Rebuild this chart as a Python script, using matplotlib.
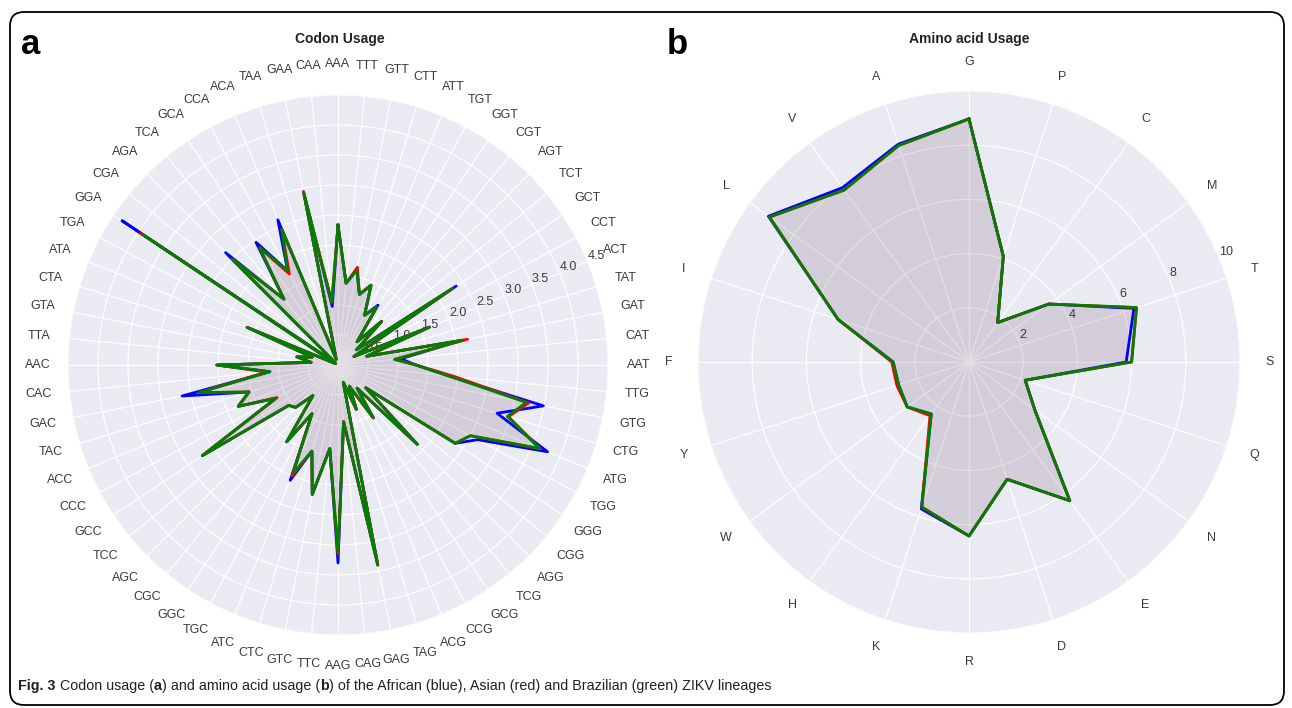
import matplotlib
matplotlib.use('Agg')
import matplotlib.pyplot as plt
import numpy as np
from matplotlib.patches import FancyBboxPatch

plt.rcParams['font.family'] = ['Liberation Sans', 'DejaVu Sans']

# ---------------- data ----------------
codons = ['AAA', 'TTT', 'GTT', 'CTT', 'ATT', 'TGT', 'GGT', 'CGT', 'AGT', 'TCT',
          'GCT', 'CCT', 'ACT', 'TAT', 'GAT', 'CAT', 'AAT', 'TTG', 'GTG', 'CTG',
          'ATG', 'TGG', 'GGG', 'CGG', 'AGG', 'TCG', 'GCG', 'CCG', 'ACG', 'TAG',
          'GAG', 'CAG', 'AAG', 'TTC', 'GTC', 'CTC', 'ATC', 'TGC', 'GGC', 'CGC',
          'AGC', 'TCC', 'GCC', 'CCC', 'ACC', 'TAC', 'GAC', 'CAC', 'AAC', 'TTA',
          'GTA', 'CTA', 'ATA', 'TGA', 'GGA', 'CGA', 'AGA', 'TCA', 'GCA', 'CCA',
          'ACA', 'TAA', 'GAA', 'CAA']

codon_african = [2.33, 1.37, 1.61, 1.23, 1.44, 0.94, 1.20, 0.50, 1.03, 0.40,
                 2.37, 0.30, 1.65, 0.50, 2.08, 1.05, 1.30, 1.85, 3.49, 2.77,
                 3.78, 2.64, 2.35, 0.60, 1.87, 0.50, 1.06, 0.40, 0.80, 0.30,
                 3.40, 0.95, 3.30, 1.40, 2.20, 1.50, 2.08, 0.92, 1.54, 0.66,
                 1.00, 1.06, 2.72, 1.18, 1.80, 1.55, 2.65, 1.14, 2.02, 0.45,
                 0.70, 0.45, 1.64, 0.05, 4.33, 0.05, 2.65, 1.42, 2.46, 1.78,
                 2.62, 0.10, 2.92, 0.98]
codon_asian = [2.33, 1.37, 1.66, 1.23, 1.44, 0.94, 1.16, 0.50, 1.03, 0.40,
               2.30, 0.30, 1.65, 0.50, 2.20, 0.95, 1.30, 1.95, 3.24, 2.97,
               3.65, 2.50, 2.35, 0.60, 1.87, 0.50, 1.06, 0.40, 0.80, 0.30,
               3.40, 0.95, 3.15, 1.40, 2.20, 1.50, 2.00, 0.92, 1.54, 0.66,
               1.00, 1.06, 2.72, 1.15, 1.80, 1.55, 2.36, 1.20, 2.02, 0.45,
               0.70, 0.45, 1.64, 0.05, 3.95, 0.05, 2.50, 1.42, 2.35, 1.72,
               2.45, 0.10, 2.95, 1.05]
codon_brazilian = [2.33, 1.37, 1.61, 1.23, 1.44, 0.94, 1.16, 0.50, 1.03, 0.40,
                   2.30, 0.30, 1.65, 0.50, 2.12, 0.95, 1.30, 1.85, 3.20, 2.95,
                   3.63, 2.50, 2.35, 0.60, 1.87, 0.50, 1.06, 0.40, 0.80, 0.30,
                   3.40, 0.95, 3.13, 1.40, 2.20, 1.50, 1.95, 0.92, 1.54, 0.66,
                   1.00, 1.06, 2.72, 1.18, 1.80, 1.55, 2.36, 1.14, 2.02, 0.45,
                   0.70, 0.45, 1.64, 0.05, 3.90, 0.05, 2.50, 1.42, 2.35, 1.78,
                   2.45, 0.10, 2.92, 1.05]

amino = ['G', 'P', 'C', 'M', 'T', 'S', 'Q', 'N', 'E', 'D',
         'R', 'K', 'H', 'W', 'Y', 'F', 'I', 'L', 'V', 'A']
amino_african = [8.97, 4.10, 1.80, 3.64, 6.40, 5.80, 2.18, 3.00, 6.33, 4.55,
                 6.42, 5.70, 2.37, 2.82, 2.73, 2.80, 5.08, 9.15, 7.95, 8.45]
amino_asian = [8.97, 4.10, 1.80, 3.64, 6.50, 6.00, 2.18, 3.00, 6.33, 4.55,
               6.42, 5.63, 2.45, 2.82, 2.80, 2.85, 5.08, 9.10, 7.84, 8.40]
amino_brazilian = [8.97, 4.10, 1.80, 3.64, 6.50, 6.00, 2.18, 3.00, 6.33, 4.55,
                   6.42, 5.63, 2.37, 2.82, 2.73, 2.80, 5.08, 9.10, 7.84, 8.40]

codon_rticks = [0.5, 1.0, 1.5, 2.0, 2.5, 3.0, 3.5, 4.0, 4.5]
amino_rticks = [2, 4, 6, 8, 10]

series_colors = ['blue', 'red', 'green']

# ---------------- figure ----------------
W, H = 1292, 708
fig = plt.figure(figsize=(W / 100, H / 100), dpi=100)
fig.patch.set_facecolor('white')

frame = FancyBboxPatch((10, 3), 1274, 693,
                       boxstyle='round,pad=0,rounding_size=14',
                       transform=None, facecolor='none',
                       edgecolor='black', linewidth=1.3)
fig.patches.append(frame)


def px_axes(cx, cy, r):
    return [(cx - r) / W, (H - cy - r) / H, 2 * r / W, 2 * r / H]


def radar(ax, labels, series, rmax, rticks, rfmt, pad):
    n = len(labels)
    ang = np.linspace(0, 2 * np.pi, n, endpoint=False)
    ax.set_facecolor('#EAEAF2')
    ax.set_theta_offset(np.pi / 2)
    ax.set_theta_direction(-1)
    ax.spines['polar'].set_visible(False)
    for vals, col in zip(series, series_colors):
        v = np.append(vals, vals[0])
        a = np.append(ang, ang[0])
        ax.fill(a, v, color=col, alpha=0.05, zorder=2)
        ax.plot(a, v, color=col, linewidth=2, zorder=3)
    ax.set_xticks(ang)
    ax.set_xticklabels(labels, fontsize=9, color='#3a3a3a')
    ax.tick_params(axis='x', pad=pad, length=0)
    ax.set_ylim(0, rmax)
    ax.set_yticks(rticks)
    ax.set_yticklabels([rfmt(t) for t in rticks], fontsize=9, color='#3a3a3a')
    ax.set_rlabel_position(67.5)
    ax.grid(True, color='white', linewidth=0.85)
    ax.set_axisbelow(True)


ax1 = fig.add_axes(px_axes(338, 365, 270), projection='polar')
radar(ax1, codons, [codon_african, codon_asian, codon_brazilian],
      4.5, codon_rticks, lambda t: f'{t:.1f}', 15)

ax2 = fig.add_axes(px_axes(969, 362, 271), projection='polar')
radar(ax2, amino, [amino_african, amino_asian, amino_brazilian],
      10, amino_rticks, lambda t: f'{t:d}', 14)

# titles and panel letters
fig.text(340 / W, 1 - 39 / H, 'Codon Usage', ha='center', va='center',
         fontsize=10, fontweight='bold', color='#222222')
fig.text(969 / W, 1 - 39 / H, 'Amino acid Usage', ha='center', va='center',
         fontsize=10, fontweight='bold', color='#222222')
fig.text(21 / W, 1 - 44 / H, 'a', ha='left', va='center',
         fontsize=25, fontweight='bold')
fig.text(667 / W, 1 - 44 / H, 'b', ha='left', va='center',
         fontsize=25, fontweight='bold')

# caption with mixed weights
fig.canvas.draw()
rend = fig.canvas.get_renderer()
parts = [('Fig. 3', True), ('Codon usage (', False), ('a', True),
         (') and amino acid usage (', False), ('b', True),
         (') of the African (blue), Asian (red) and Brazilian (green) ZIKV lineages', False)]
x = 18.0
ybase = 1 - 690 / H
cap_size = 10.3
for i, (txt, bold) in enumerate(parts):
    t = fig.text(x / W, ybase, txt, ha='left', va='baseline', fontsize=cap_size,
                 fontweight='bold' if bold else 'normal', color='#231f20')
    bb = t.get_window_extent(renderer=rend)
    x += bb.width
    if i == 0:
        x += 4.5

fig.savefig('out.png', dpi=100, facecolor='white')
